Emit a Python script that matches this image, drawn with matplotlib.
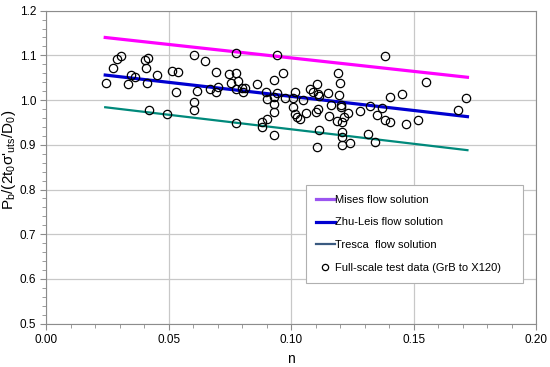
import numpy as np
import matplotlib
matplotlib.use("Agg")
import matplotlib.pyplot as plt
from matplotlib.lines import Line2D
from matplotlib.ticker import MultipleLocator

plt.rcParams['font.family'] = ['Liberation Sans', 'DejaVu Sans']

# flow solution lines (endpoints)
line_n = [0.024, 0.172]
mises = [1.140, 1.051]
zhu_leis = [1.056, 0.963]
tresca = [0.984, 0.888]

# full-scale test data
test_n = [0.0242, 0.0270, 0.0287, 0.0303, 0.0344, 0.0363, 0.0333, 0.0401, 0.0416, 0.0405,
          0.0411, 0.0453, 0.0420, 0.0492, 0.0514, 0.0537, 0.0528, 0.0603, 0.0646, 0.0616,
          0.0603, 0.0603, 0.0694, 0.0699, 0.0669, 0.0691, 0.0773, 0.0746, 0.0774, 0.0755,
          0.0784, 0.0775, 0.0799, 0.0812, 0.0801, 0.0773, 0.0860, 0.0942, 0.0929, 0.0895,
          0.0900, 0.0928, 0.0940, 0.0929, 0.0929, 0.0882, 0.0900, 0.0882, 0.0929, 0.0967,
          0.0973, 0.1016, 0.1008, 0.1047, 0.1007, 0.1015, 0.1022, 0.1036, 0.1061, 0.1075,
          0.1104, 0.1090, 0.1110, 0.1113, 0.1149, 0.1191, 0.1200, 0.1196, 0.1204, 0.1204,
          0.1110, 0.1101, 0.1155, 0.1185, 0.1206, 0.1217, 0.1233, 0.1114, 0.1206, 0.1206,
          0.1240, 0.1206, 0.1106, 0.1162, 0.1281, 0.1323, 0.1350, 0.1369, 0.1382, 0.1312,
          0.1341, 0.1383, 0.1552, 0.1402, 0.1452, 0.1404, 0.1467, 0.1517, 0.1680, 0.1716]
test_p = [1.039, 1.071, 1.092, 1.098, 1.055, 1.051, 1.036, 1.090, 1.094, 1.072,
          1.039, 1.056, 0.978, 0.970, 1.066, 1.063, 1.017, 1.101, 1.088, 1.020,
          0.995, 0.978, 1.062, 1.030, 1.024, 1.017, 1.105, 1.058, 1.060, 1.039,
          1.042, 1.025, 1.028, 1.028, 1.019, 0.948, 1.036, 1.101, 1.045, 1.019,
          1.002, 1.006, 1.015, 0.991, 0.973, 0.952, 0.957, 0.939, 0.923, 1.061,
          1.004, 1.019, 1.004, 1.000, 0.984, 0.969, 0.962, 0.958, 0.972, 1.025,
          1.036, 1.017, 1.014, 1.010, 1.015, 1.061, 1.038, 1.011, 0.989, 0.985,
          0.979, 0.974, 0.964, 0.954, 0.950, 0.963, 0.972, 0.933, 0.928, 0.917,
          0.903, 0.900, 0.894, 0.989, 0.976, 0.987, 0.967, 0.982, 0.955, 0.924,
          0.907, 1.099, 1.041, 1.006, 1.014, 0.951, 0.946, 0.955, 0.978, 1.004]

fig = plt.figure(figsize=(5.5, 3.67), dpi=100)
ax = fig.add_axes([0.0845, 0.118, 0.89, 0.853])

ax.plot(line_n, mises, color="#FF00FF", lw=2.3, zorder=3)
ax.plot(line_n, zhu_leis, color="#0000D0", lw=2.3, zorder=3)
ax.plot(line_n, tresca, color="#00897B", lw=1.6, zorder=3)
ax.plot(test_n, test_p, linestyle="none", marker="o", ms=6, mfc="none",
        mec="black", mew=0.9, zorder=4)

ax.set_xlim(0, 0.2)
ax.set_ylim(0.5, 1.2)
ax.xaxis.set_major_locator(MultipleLocator(0.05))
ax.xaxis.set_minor_locator(MultipleLocator(0.01))
ax.yaxis.set_major_locator(MultipleLocator(0.1))
ax.yaxis.set_minor_locator(MultipleLocator(0.02))
ax.xaxis.set_major_formatter(plt.FormatStrFormatter("%.2f"))
ax.yaxis.set_major_formatter(plt.FormatStrFormatter("%.1f"))
ax.grid(True, which="major", color="#c8c8c8", lw=0.9)
ax.set_axisbelow(True)
for s in ax.spines.values():
    s.set_color("#8c8c8c")
ax.tick_params(which="both", direction="out", colors="#8c8c8c", labelcolor="black",
               labelsize=8.5)
ax.tick_params(which="major", length=4)
ax.tick_params(which="minor", length=3)

ax.set_xlabel("n", fontsize=10)
ax.set_ylabel(r"P$_\mathregular{b}$/(2t$_\mathregular{0}$$\mathregular{\sigma}$'$_\mathregular{uts}$/D$_\mathregular{0}$)",
              fontsize=11)
ax.yaxis.set_label_coords(-0.058, 0.523)

handles = [
    Line2D([], [], color="#9B55F0", lw=2.3),
    Line2D([], [], color="#0000D0", lw=2.3),
    Line2D([], [], color="#3A5A80", lw=1.6),
    Line2D([], [], linestyle="none", marker="o", ms=4.5, mfc="none", mec="black", mew=0.9),
]
labels = ["Mises flow solution", "Zhu-Leis flow solution", "Tresca  flow solution",
          "Full-scale test data (GrB to X120)"]
leg = ax.legend(handles, labels, loc="lower left", bbox_to_anchor=(0.53, 0.13, 0.443, 0.31),
                mode="expand", borderaxespad=0, fontsize=8, labelspacing=1.15,
                handlelength=1.7, handletextpad=0.05, borderpad=0.9, fancybox=False,
                framealpha=1, edgecolor="#b0b0b0")
leg.get_frame().set_linewidth(0.8)

fig.savefig("out.png", dpi=100)
